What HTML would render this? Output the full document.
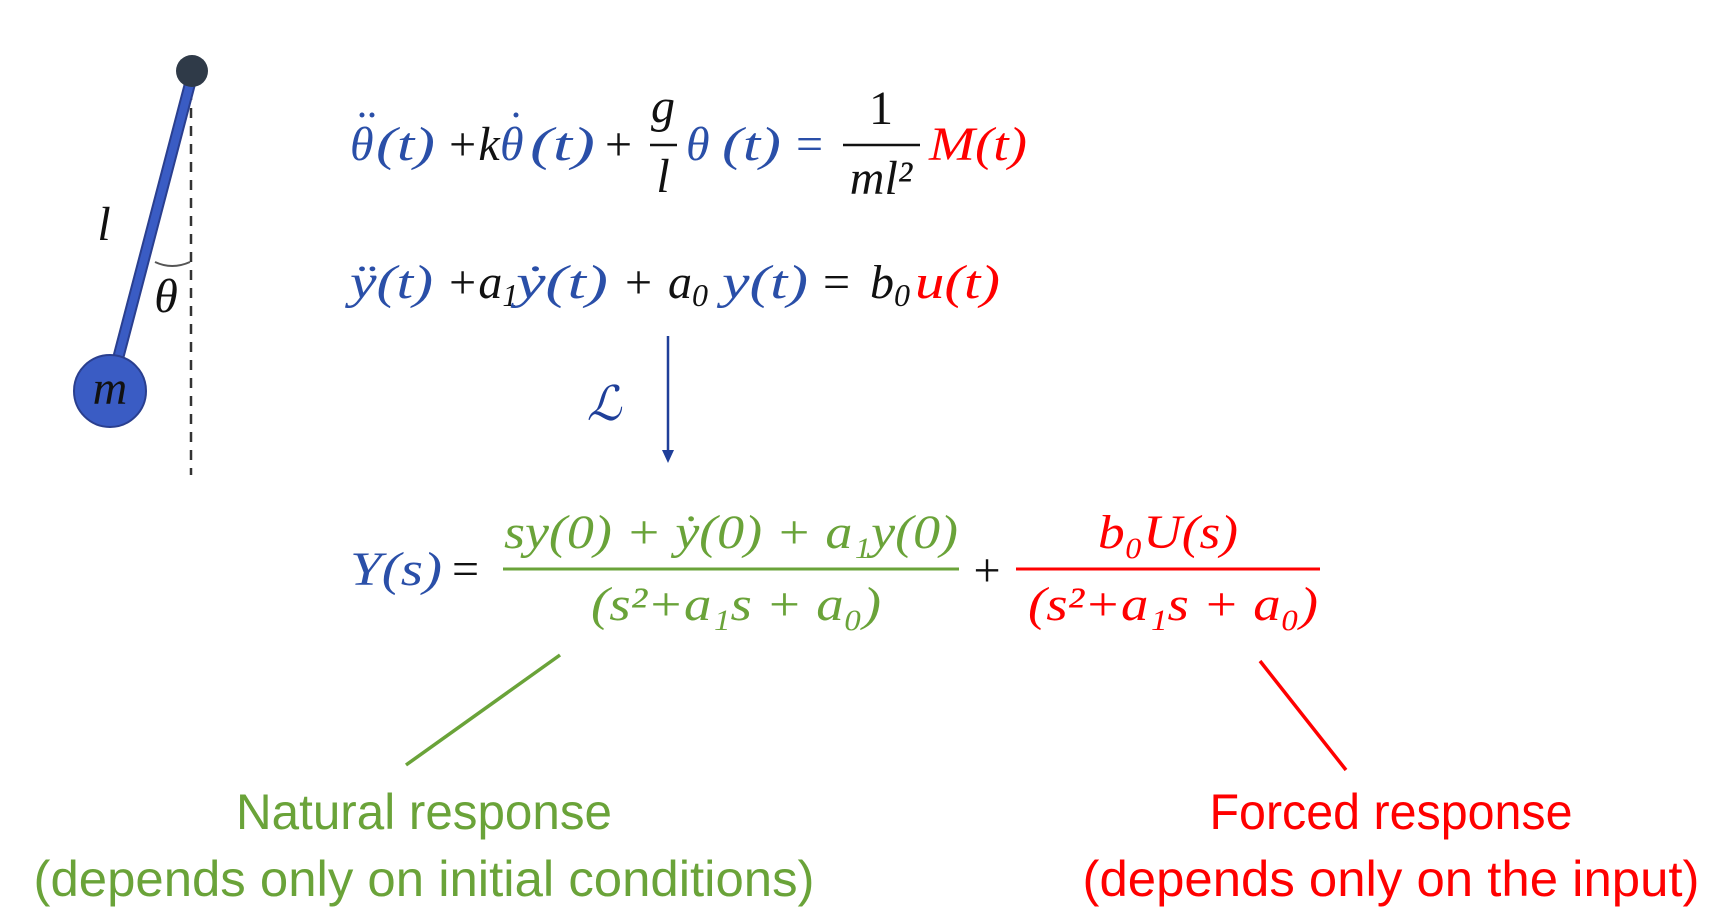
<!DOCTYPE html>
<html><head><meta charset="utf-8"><style>
html,body{margin:0;padding:0;background:#fff;}
svg{display:block}
.m{font-family:"Liberation Serif","DejaVu Serif",serif;font-style:italic;font-size:48px}
.u{font-family:"Liberation Serif",serif;font-style:normal}
.t{font-family:"Liberation Sans","DejaVu Sans",sans-serif;font-size:50px}
</style></head><body>
<svg width="1713" height="913" viewBox="0 0 1713 913">
<g>
<line x1="191" y1="90" x2="191" y2="475" stroke="#333" stroke-width="2.5" stroke-dasharray="10,8"/>
<line x1="192" y1="76" x2="115" y2="370" stroke="#2a3f8f" stroke-width="12"/>
<line x1="192" y1="76" x2="115" y2="370" stroke="#3a5cc4" stroke-width="8"/>
<circle cx="192" cy="71" r="16" fill="#2f3a48"/>
<circle cx="110" cy="391" r="36" fill="#3a5cc4" stroke="#2a3f8f" stroke-width="2"/>
<text x="110" y="404" class="m" text-anchor="middle" fill="#111" font-size="50">m</text>
<text x="104" y="240" class="m" text-anchor="middle" fill="#111">l</text>
<path d="M155 262 Q172 270 190 262" fill="none" stroke="#555" stroke-width="2"/>
<text x="166" y="312" class="m" text-anchor="middle" fill="#111" font-size="42">θ</text>
</g>
<g>
<text y="160" class="m" fill="#2a4fa8"><tspan x="350">θ</tspan></text>
<circle cx="362" cy="115" r="2.5" fill="#2a4fa8"/><circle cx="372" cy="115" r="2.5" fill="#2a4fa8"/>
<text y="160" class="m" fill="#2a4fa8" x="376" textLength="59" lengthAdjust="spacingAndGlyphs">(t)</text>
<text y="160" class="m" fill="#111"><tspan x="446">+</tspan><tspan>k</tspan></text>
<text y="160" class="m" fill="#2a4fa8" x="500">θ</text>
<circle cx="516" cy="115" r="2.5" fill="#2a4fa8"/>
<text y="160" class="m" fill="#2a4fa8" x="530" textLength="65" lengthAdjust="spacingAndGlyphs">(t)</text>
<text x="605" y="160" class="m u" fill="#111">+</text>
<text x="663" y="122" class="m" text-anchor="middle" fill="#111">g</text>
<line x1="650" y1="145" x2="677" y2="145" stroke="#111" stroke-width="2.5"/>
<text x="663" y="192" class="m" text-anchor="middle" fill="#111">l</text>
<text y="160" class="m" fill="#2a4fa8" x="686">θ</text>
<text y="160" class="m" fill="#2a4fa8" x="722" textLength="59" lengthAdjust="spacingAndGlyphs">(t)</text>
<text x="796" y="160" class="m u" fill="#2a4fa8">=</text>
<text x="881" y="124" class="m u" text-anchor="middle" fill="#111">1</text>
<line x1="843" y1="145" x2="920" y2="145" stroke="#111" stroke-width="2.5"/>
<text x="881" y="194" class="m" text-anchor="middle" fill="#111">ml²</text>
<text y="160" class="m" fill="#ff0000" x="929" textLength="98" lengthAdjust="spacingAndGlyphs">M(t)</text>
</g>
<g>
<text y="298" class="m" fill="#2a4fa8" x="350" textLength="83" lengthAdjust="spacingAndGlyphs">ÿ(t)</text>
<text y="298" class="m" fill="#111"><tspan x="446">+a</tspan><tspan font-size="32" dy="8">1</tspan></text>
<text y="298" class="m" fill="#2a4fa8" x="516" textLength="92" lengthAdjust="spacingAndGlyphs">ẏ(t)</text>
<text x="625" y="298" class="m u" fill="#111">+</text>
<text y="298" class="m" fill="#111"><tspan x="668">a</tspan><tspan font-size="32" dy="8">0</tspan></text>
<text y="298" class="m" fill="#2a4fa8" x="722" textLength="86" lengthAdjust="spacingAndGlyphs">y(t)</text>
<text x="823" y="298" class="m u" fill="#111">=</text>
<text y="298" class="m" fill="#111"><tspan x="870">b</tspan><tspan font-size="32" dy="8">0</tspan></text>
<text y="298" class="m" fill="#ff0000" x="915" textLength="85" lengthAdjust="spacingAndGlyphs">u(t)</text>
</g>
<g>
<line x1="668" y1="336" x2="668" y2="452" stroke="#1f3f99" stroke-width="2.5"/>
<polygon points="662,450 674,450 668,463" fill="#1f3f99"/>
<text x="604" y="420" class="m" text-anchor="middle" fill="#1f3f99" font-size="50">ℒ</text>
</g>
<g>
<text y="585" class="m" fill="#2a4fa8" x="350" textLength="92" lengthAdjust="spacingAndGlyphs">Y(s)</text>
<text x="452" y="585" class="m u" fill="#111">=</text>
<text x="731" y="548" class="m" text-anchor="middle" fill="#6aa339" textLength="454" lengthAdjust="spacingAndGlyphs">sy(0) + ẏ(0) + a₁y(0)</text>
<line x1="503" y1="569" x2="959" y2="569" stroke="#6aa339" stroke-width="3"/>
<text x="736" y="620" class="m" text-anchor="middle" fill="#6aa339" textLength="290" lengthAdjust="spacingAndGlyphs">(s²+a₁s + a₀)</text>
<text x="987" y="586" class="m u" text-anchor="middle" fill="#111">+</text>
<text x="1168" y="548" class="m" text-anchor="middle" fill="#ff0000" textLength="140" lengthAdjust="spacingAndGlyphs">b₀U(s)</text>
<line x1="1016" y1="569" x2="1320" y2="569" stroke="#ff0000" stroke-width="3"/>
<text x="1173" y="620" class="m" text-anchor="middle" fill="#ff0000" textLength="290" lengthAdjust="spacingAndGlyphs">(s²+a₁s + a₀)</text>
</g>
<line x1="560" y1="655" x2="406" y2="765" stroke="#6aa339" stroke-width="3.5"/>
<line x1="1260" y1="661" x2="1346" y2="770" stroke="#ff0000" stroke-width="3.5"/>
<text x="424" y="829" class="t" text-anchor="middle" fill="#6aa339" textLength="376" lengthAdjust="spacingAndGlyphs">Natural response</text>
<text x="424" y="896" class="t" text-anchor="middle" fill="#6aa339" textLength="781" lengthAdjust="spacingAndGlyphs">(depends only on initial conditions)</text>
<text x="1391" y="829" class="t" text-anchor="middle" fill="#ff0000" textLength="363" lengthAdjust="spacingAndGlyphs">Forced response</text>
<text x="1391" y="896" class="t" text-anchor="middle" fill="#ff0000" textLength="617" lengthAdjust="spacingAndGlyphs">(depends only on the input)</text>
</svg>
</body></html>
